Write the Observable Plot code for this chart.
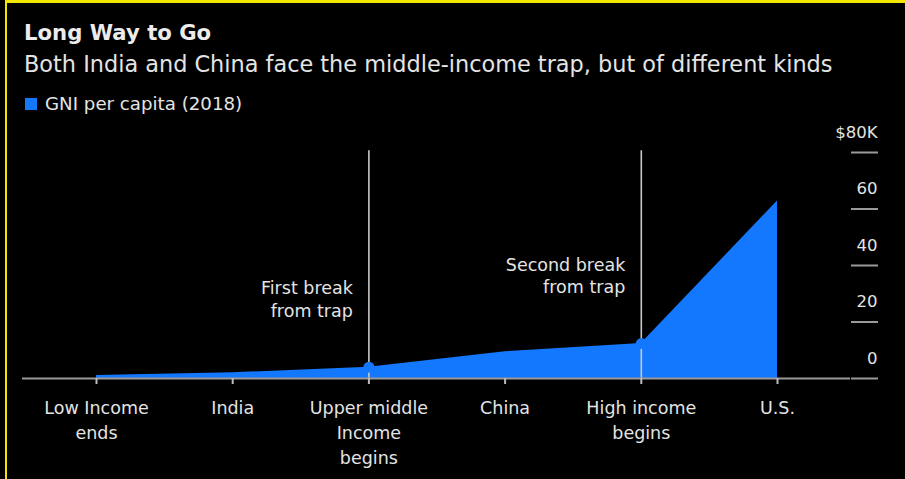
<!DOCTYPE html>
<html>
<head>
<meta charset="utf-8">
<script src="https://cdn.jsdelivr.net/npm/d3@7"></script>
<script src="https://cdn.jsdelivr.net/npm/@observablehq/plot@0.6"></script>
<style>
  html, body { margin: 0; padding: 0; background: #000; }
  body { width: 905px; height: 479px; overflow: hidden; position: relative; font-family: "DejaVu Sans", Arial, sans-serif; color: #e8e8e8; }
  #frame { position: absolute; left: 5px; top: 0; width: 900px; height: 479px; border-top: 3px solid #f2e600; border-left: 2px solid #f2e600; box-sizing: border-box; z-index: 10; pointer-events: none; }
  #title { position: absolute; left: 24px; top: 20px; font-size: 21.2px; font-weight: bold; color: #ececec; }
  #subtitle { position: absolute; left: 24px; top: 51px; font-size: 22.4px; color: #e4e4e4; }
  #legend { position: absolute; left: 25px; top: 93px; font-size: 18.2px; color: #e4e4e4; display: flex; align-items: center; }
  #legend .sw { width: 12px; height: 12px; background: #1478ff; margin-right: 8px; }
  #chart { position: absolute; left: 0; top: 120px; }
</style>
</head>
<body>
<div id="frame"></div>
<div id="title">Long Way to Go</div>
<div id="subtitle">Both India and China face the middle-income trap, but of different kinds</div>
<div id="legend"><div class="sw"></div>GNI per capita (2018)</div>
<div id="chart"></div>
<script>
// Data
const categories = ["Low Income\nends", "India", "Upper middle\nIncome\nbegins", "China", "High income\nbegins", "U.S."];
const gni = [1.025, 2.02, 3.995, 9.47, 12.375, 62.85]; // $K, GNI per capita 2018
const breakIdx = [2, 4];
const breakLabels = ["First break\nfrom trap", "Second break\nfrom trap"];
const breakLabelY = [28.5, 36.7];
const yTicks = [0, 20, 40, 60, 80];
const yTickLabels = ["0", "20", "40", "60", "$80K"];

const data = categories.map((c, i) => ({i, c, v: gni[i]}));
const breaks = breakIdx.map((k, j) => ({i: k, v: gni[k], label: breakLabels[j], ly: breakLabelY[j]}));
const yLab = yTicks.map((t, j) => ({t, label: yTickLabels[j]}));

const blue = "#1478ff";
const step = 136.2;
const xMax = 5 + (850 - 777) / step;
const plot = Plot.plot({
  width: 905,
  height: 359,
  marginTop: 32,
  marginBottom: 101,
  marginLeft: 22,
  marginRight: 55,
  style: {background: "#000", color: "#e0e0e0", fontFamily: "'DejaVu Sans', Arial, sans-serif", fontSize: "17px", overflow: "visible"},
  x: {domain: [-(96 - 22) / step, xMax]},
  y: {domain: [0, 80]},
  marks: [
    Plot.areaY(data, {x: "i", y: "v", fill: blue}),
    Plot.ruleX(breaks, {x: "i", y1: 0, y2: 80.6, stroke: "#c8c8c8", strokeWidth: 1.6}),
    Plot.dot(breaks, {x: "i", y: "v", r: 5.5, fill: blue}),
    Plot.text(breaks, {x: "i", y: "ly", text: "label", textAnchor: "end", dx: -16, lineHeight: 1.3, fill: "#e4e4e4", fontSize: 17.5}),
    Plot.ruleY([0], {stroke: "#9a9a9a", strokeWidth: 2}),
    Plot.axisX({ticks: categories.map((c, i) => i), tickFormat: i => categories[i], tickSize: 6, tickPadding: 12, lineHeight: 1.42, stroke: "#bbb", strokeWidth: 2, fill: "#e4e4e4", fontSize: 17.5, label: null}),
    Plot.axisY({anchor: "right", ticks: yTicks, tickFormat: () => "", tickSize: 27, stroke: "#9a9a9a", strokeWidth: 2, label: null}),
    Plot.text(yLab, {x: xMax, y: "t", text: "label", textAnchor: "end", dx: 27, dy: -20, fill: "#e4e4e4", fontSize: 16.5, clip: false})
  ]
});
document.getElementById("chart").appendChild(plot);
</script>
</body>
</html>
